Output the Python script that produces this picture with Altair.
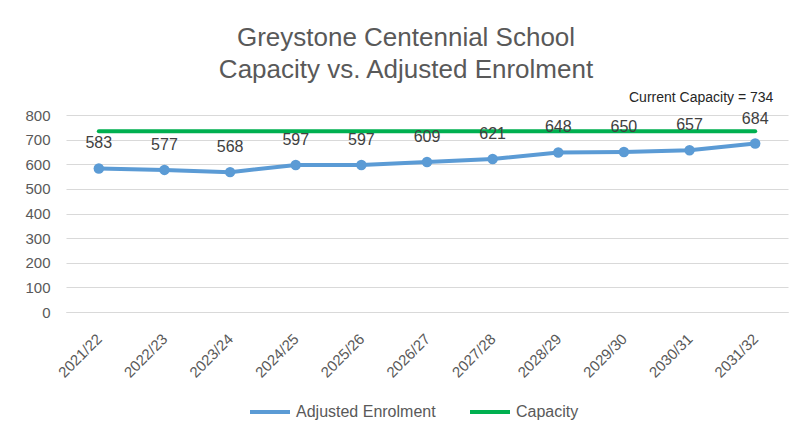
import altair as alt
import pandas as pd

years = ["2021/22", "2022/23", "2023/24", "2024/25", "2025/26", "2026/27",
         "2027/28", "2028/29", "2029/30", "2030/31", "2031/32"]
enrolment = [583, 577, 568, 597, 597, 609, 621, 648, 650, 657, 684]
capacity = [734] * len(years)
series_names = ["Adjusted Enrolment", "Capacity"]
series_colors = ["#5B9BD5", "#00B050"]

rows = []
for y, e, c in zip(years, enrolment, capacity):
    rows.append({"year": y, "series": series_names[0], "value": e})
    rows.append({"year": y, "series": series_names[1], "value": c})
df = pd.DataFrame(rows)
enr_df = pd.DataFrame({"year": years, "value": enrolment})
ann_df = pd.DataFrame({"year": [years[-1]], "value": [capacity[-1]],
                       "label": [f"Current Capacity = {capacity[-1]}"]})

FONT = "Liberation Sans"
GREY = "#595959"

x_enc = alt.X("year:O", sort=years, title=None,
              scale=alt.Scale(padding=0.5),
              axis=alt.Axis(labelAngle=-45, labelAlign="right", labelBaseline="middle",
                            labelFontSize=15, labelColor=GREY,
                            labelFont=FONT, ticks=False, domainColor="#D9D9D9",
                            labelPadding=24, labelOverlap=False))
y_enc = alt.Y("value:Q", title=None,
              scale=alt.Scale(domain=[0, 800]),
              axis=alt.Axis(values=list(range(0, 801, 100)), labelFontSize=15,
                            labelColor=GREY, labelFont=FONT, ticks=False,
                            domain=False, gridColor="#D9D9D9", labelPadding=16,
                            labelOverlap=False))

lines = alt.Chart(df).mark_line(strokeWidth=4, strokeCap="round").encode(
    x=x_enc, y=y_enc,
    color=alt.Color("series:N", sort=series_names,
                    scale=alt.Scale(domain=series_names, range=series_colors),
                    legend=alt.Legend(title=None, orient="none", direction="horizontal",
                                      legendX=182, legendY=275,
                                      symbolType="stroke", symbolSize=1600,
                                      symbolStrokeWidth=4, labelFontSize=16,
                                      labelColor=GREY, labelFont=FONT,
                                      columnPadding=26, labelOffset=4)),
)

points = alt.Chart(enr_df).mark_point(filled=True, size=110, opacity=1,
                                      color=series_colors[0]).encode(
    x=x_enc, y=y_enc)

labels = alt.Chart(enr_df).mark_text(dy=-25, fontSize=16, color="#404040",
                                     font=FONT).encode(
    x=x_enc, y=y_enc, text="value:Q")

ann = alt.Chart(ann_df).mark_text(dx=-54, dy=-33, fontSize=14, color="#262626",
                                  font=FONT).encode(
    x=x_enc, y=y_enc, text="label:N")

chart = alt.layer(lines, points, labels, ann).properties(
    width=722, height=197,
    title=alt.TitleParams(text=["Greystone Centennial School",
                                "Capacity vs. Adjusted Enrolment"],
                          fontSize=26, font=FONT, color=GREY, fontWeight="normal",
                          anchor="middle", dx=-21, offset=8, lineHeight=32),
    autosize=alt.AutoSizeParams(type="none"),
    padding={"left": 58, "top": 107, "right": 7, "bottom": 120},
).configure_view(stroke=None)

chart.save("out.html", embed_options={"renderer": "svg", "actions": False})
